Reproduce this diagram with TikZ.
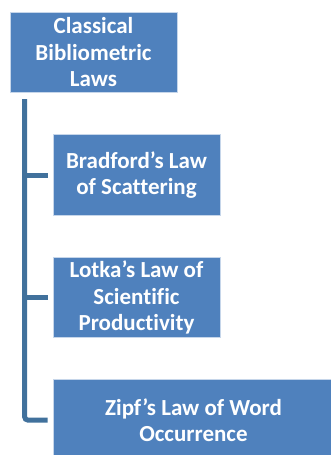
\documentclass[tikz,border=0pt]{standalone}
\usepackage{fontspec}
\setmainfont{Carlito}[Ligatures=NoCommon]
\usepackage{xcolor}
\usepackage{tikz}
\usetikzlibrary{calc}

\definecolor{lawblue}{HTML}{4F81BD}
\definecolor{lawline}{HTML}{41719C}
\definecolor{lawedge}{HTML}{C6D6EA}

\begin{document}
\begin{tikzpicture}[x=1pt, y=1pt,
		lawbox/.style = {fill = lawblue, draw = lawedge, line width = 0.6pt, text = white,
			font = \bfseries\fontsize{23}{26.5}\selectfont, align = center, inner sep = 0pt},
		lawconn/.style = {draw = lawline, line width = 5pt}]
		\def\w{167};
		\def\h{80.5};
		
		\useasboundingbox (0,0) rectangle (331,-455);
		
		\node [lawbox, minimum width = \w, minimum height = \h] (root) at (93.5,-52.5) {Classical\\Bibliometric\\Laws};
		\node [lawbox, minimum width = \w, minimum height = \h] (bradford) at (136.5,-175) {Bradford’s Law\\of Scattering};
		\node [lawbox, minimum width = \w, minimum height = \h] (lotka) at (136.5,-297.5) {Lotka’s Law of\\Scientific\\Productivity};
		\node [lawbox, minimum width = 281, minimum height = \h] (zipf) at (193.5,-420) {Zipf’s Law of Word\\Occurrence};
		
		\coordinate (spine) at ($(root.south west)+(15,-6)$);
		
		\draw [lawconn, rounded corners = 3pt] (spine) |- ($(zipf.west)+(-5,0)$);
		\draw [lawconn] (spine |- bradford.west) -- ($(bradford.west)+(-5,0)$);
		\draw [lawconn] (spine |- lotka.west) -- ($(lotka.west)+(-5,0)$);
	\end{tikzpicture}
\end{document}
